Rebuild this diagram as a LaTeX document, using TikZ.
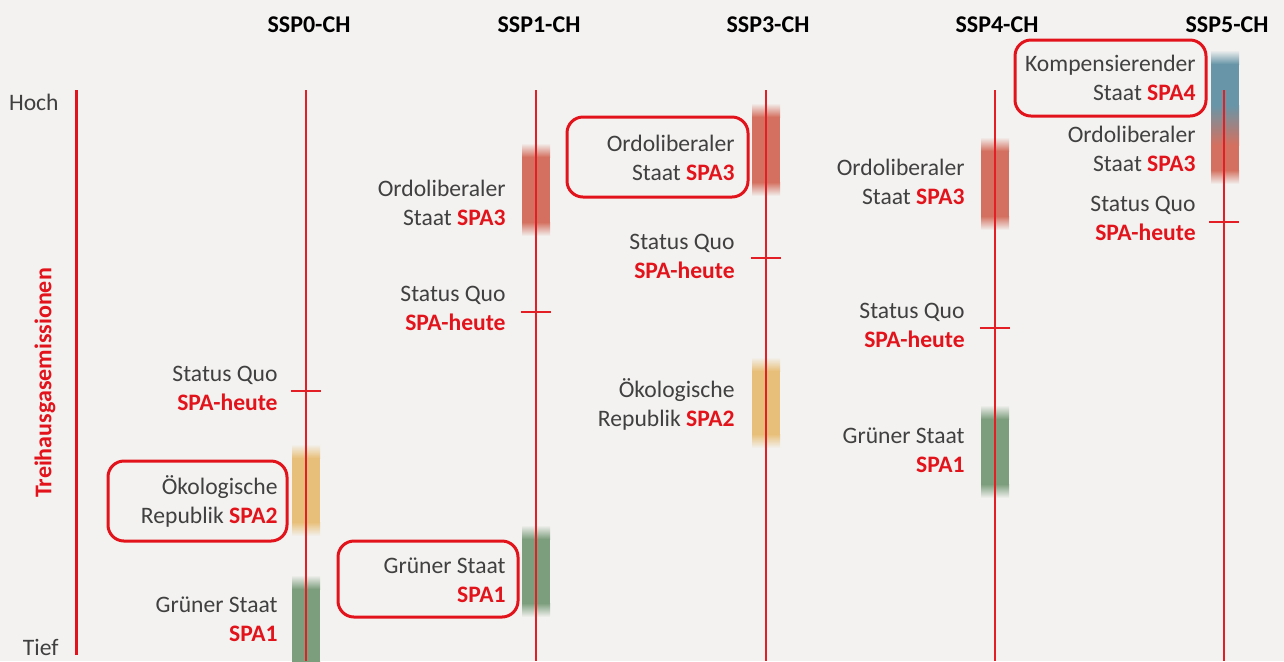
\documentclass[tikz,border=0pt]{standalone}
\usepackage{fontspec}
\setmainfont{Carlito}
\usepackage{tikz}

\definecolor{bg}{HTML}{F3F2F0}
\definecolor{txt}{HTML}{404040}
\definecolor{spared}{HTML}{E3131B}
\definecolor{linered}{HTML}{E31E24}
\definecolor{barred}{HTML}{D4705F}
\definecolor{barorange}{HTML}{E8BF7A}
\definecolor{bargreen}{HTML}{7D9E7D}
\definecolor{barblue}{HTML}{6896A8}

\newcommand{\spa}[1]{\textcolor{spared}{\textbf{#1}}}
% faded bar: x, top, bottom, colour
\newcommand{\spabar}[4]{%
 \shade[top color=bg, bottom color=#4] (#1-14,#2) rectangle (#1+14,#2+14);
 \fill[#4] (#1-14,#2+14) rectangle (#1+14,#3-14);
 \shade[top color=#4, bottom color=bg] (#1-14,#3-14) rectangle (#1+14,#3);}

\tikzset{
 lbl/.style={anchor=east, align=right, inner sep=0pt, text=txt,
  font=\fontsize{11.8}{14.5}\selectfont},
 head/.style={inner sep=0pt, font=\fontsize{12}{14}\selectfont\bfseries},
 colline/.style={draw=linered, line width=0.75pt},
 tick/.style={draw=linered, line width=1pt},
 hl/.style={draw=spared, line width=1.5pt, rounded corners=8pt}
}

\begin{document}
\begin{tikzpicture}[x=0.5pt, y=-0.5pt]
 \fill[bg] (0,0) rectangle (1284,661);
 \useasboundingbox (0,0) rectangle (1284,661);

 % axis
 \draw (59,102) node[lbl] (hoch) {Hoch};
 \draw (59,647) node[lbl] (tief) {Tief};
 \draw (45,383) node[rotate=90, text=spared, head] (achse) {Treihausgasemissionen};
 \coordinate (at) at (76,90);
 \coordinate (ab) at (76,655);
 \draw[draw=spared, line width=1.5pt] (at) -- (ab);

 % headers
 \draw (309,25) node[head] (h0) {SSP0-CH};
 \draw (539,25) node[head] (h1) {SSP1-CH};
 \draw (768,25) node[head] (h3) {SSP3-CH};
 \draw (997,25) node[head] (h4) {SSP4-CH};
 \draw (1227,25) node[head] (h5) {SSP5-CH};

 % bars
 \spabar{306}{444}{536}{barorange}
 \spabar{306}{575}{675}{bargreen}
 \spabar{536}{143}{236}{barred}
 \spabar{536}{525}{617}{bargreen}
 \spabar{766}{103}{196}{barred}
 \spabar{766}{357}{448}{barorange}
 \spabar{995}{137}{230}{barred}
 \spabar{995}{405}{498}{bargreen}
 \shade[top color=bg, bottom color=barblue] (1211,50) rectangle (1239,64);
 \fill[barblue] (1211,64) rectangle (1239,105);
 \shade[top color=barblue, bottom color=barred] (1211,105) rectangle (1239,145);
 \fill[barred] (1211,145) rectangle (1239,170);
 \shade[top color=barred, bottom color=bg] (1211,170) rectangle (1239,184);

 % column lines
 \coordinate (c0t) at (306,90);  \coordinate (c0b) at (306,661);
 \coordinate (c1t) at (536,90);  \coordinate (c1b) at (536,661);
 \coordinate (c3t) at (766,90);  \coordinate (c3b) at (766,661);
 \coordinate (c4t) at (995,90);  \coordinate (c4b) at (995,661);
 \coordinate (c5t) at (1224,90); \coordinate (c5b) at (1224,661);
 \draw[colline] (c0t) -- (c0b);
 \draw[colline] (c1t) -- (c1b);
 \draw[colline] (c3t) -- (c3b);
 \draw[colline] (c4t) -- (c4b);
 \draw[colline] (c5t) -- (c5b);

 % status quo ticks
 \coordinate (q0) at (306,391);
 \coordinate (q1) at (536,312);
 \coordinate (q3) at (766,258);
 \coordinate (q4) at (995,328);
 \coordinate (q5) at (1224,222);
 \draw[tick] (q0) ++(-15,0) -- ++(30,0);
 \draw[tick] (q1) ++(-15,0) -- ++(30,0);
 \draw[tick] (q3) ++(-15,0) -- ++(30,0);
 \draw[tick] (q4) ++(-15,0) -- ++(30,0);
 \draw[tick] (q5) ++(-15,0) -- ++(30,0);

 % SSP0
 \draw (278,388) node[lbl] (sq0) {Status Quo\\\spa{SPA-heute}};
 \draw (278,501) node[lbl] (eco0) {Ökologische\\Republik \spa{SPA2}};
 \draw (278,619) node[lbl] (gr0) {Grüner Staat\\\spa{SPA1}};
 \draw[hl] (108,461) rectangle (287,541);

 % SSP1
 \draw (506,203) node[lbl] (ordo1) {Ordoliberaler\\Staat \spa{SPA3}};
 \draw (506,308) node[lbl] (sq1) {Status Quo\\\spa{SPA-heute}};
 \draw (506,580) node[lbl] (gr1) {Grüner Staat\\\spa{SPA1}};
 \draw[hl] (338,541) rectangle (518,617);

 % SSP3
 \draw (735,158) node[lbl] (ordo3) {Ordoliberaler\\Staat \spa{SPA3}};
 \draw (735,256) node[lbl] (sq3) {Status Quo\\\spa{SPA-heute}};
 \draw (735,404) node[lbl] (eco3) {Ökologische\\Republik \spa{SPA2}};
 \draw[hl] (567,117) rectangle (748,197);

 % SSP4
 \draw (965,182) node[lbl] (ordo4) {Ordoliberaler\\Staat \spa{SPA3}};
 \draw (965,325) node[lbl] (sq4) {Status Quo\\\spa{SPA-heute}};
 \draw (965,450) node[lbl] (gr4) {Grüner Staat\\\spa{SPA1}};

 % SSP5
 \draw (1196,78) node[lbl] (komp5) {Kompensierender\\Staat \spa{SPA4}};
 \draw (1196,149) node[lbl] (ordo5) {Ordoliberaler\\Staat \spa{SPA3}};
 \draw (1196,218) node[lbl] (sq5) {Status Quo\\\spa{SPA-heute}};
 \draw[hl] (1015,40) rectangle (1206,116);
\end{tikzpicture}
\end{document}
